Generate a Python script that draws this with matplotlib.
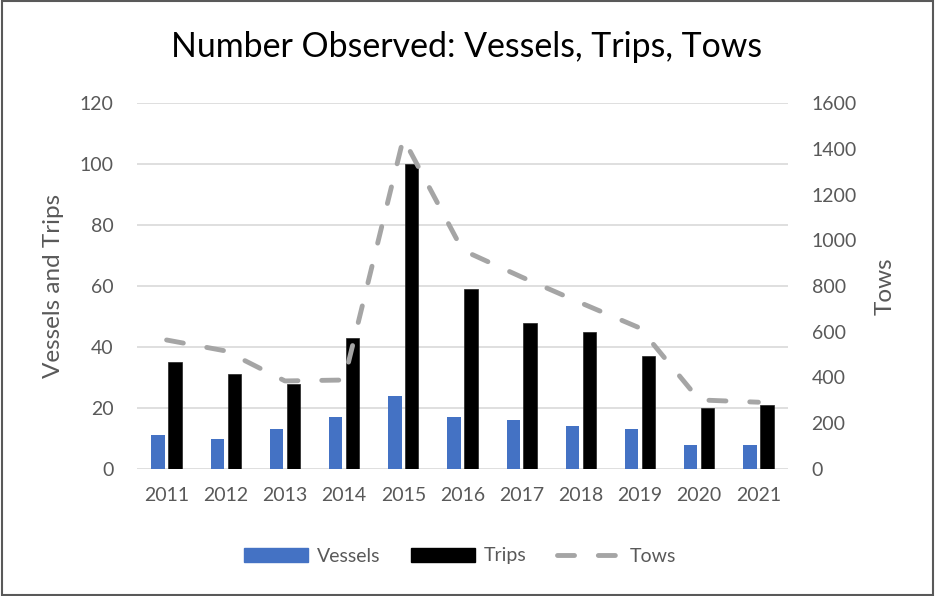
import numpy as np
import matplotlib.pyplot as plt
from matplotlib.patches import Patch, Rectangle
from matplotlib.lines import Line2D

years = ["2011", "2012", "2013", "2014", "2015", "2016", "2017", "2018", "2019", "2020", "2021"]
vessels = [11, 10, 13, 17, 24, 17, 16, 14, 13, 8, 8]
trips = [35, 31, 28, 43, 100, 59, 48, 45, 37, 20, 21]
tows = [564, 516, 385, 389, 1445, 957, 839, 726, 616, 302, 292]

plt.rcParams['font.family'] = ['Lato', 'DejaVu Sans']
grey_txt = "#595959"
tow_col = "#A5A5A5"
tow_lw = 3.5
dash = (0, (3.5, 4.9))

fig = plt.figure(figsize=(9.35, 5.96), dpi=100)
ax = fig.add_axes([137 / 935, 1 - 469 / 596, 651 / 935, 366 / 596])
ax2 = ax.twinx()

x = np.arange(len(years))
w = 0.225
ax.bar(x - 0.143, vessels, w, color="#4472C4", zorder=3)
ax.bar(x + 0.143, trips, w, color="black", edgecolor="#222222", linewidth=0.5, zorder=3)

ax2.plot(x, tows, color=tow_col, lw=tow_lw, linestyle=dash,
         dash_capstyle="round", dash_joinstyle="round")

ax.set_xlim(-0.5, len(years) - 0.5)
ax.set_ylim(0, 120)
ax2.set_ylim(0, 1600)
ax.set_yticks(range(0, 121, 20))
ax2.set_yticks(range(0, 1601, 200))
ax.set_xticks(x)
ax.set_xticklabels(years)
ax.grid(axis="y", color="#D9D9D9", lw=1.2, zorder=0)
ax.set_axisbelow(True)

for a in (ax, ax2):
    for s in a.spines.values():
        s.set_visible(False)
    a.tick_params(length=0, labelsize=14, labelcolor=grey_txt)
ax.tick_params(axis="y", pad=17)
ax.tick_params(axis="x", pad=13)
ax2.tick_params(axis="y", pad=17)

ax.set_ylabel("Vessels and Trips", fontsize=17.5, color=grey_txt, labelpad=11)
ax2.set_ylabel("Tows", fontsize=17.5, color=grey_txt, labelpad=13)

fig.text(467 / 935, 1 - 47 / 596, "Number Observed: Vessels, Trips, Tows",
         ha="center", va="center", fontsize=24.4, color="black")

handles = [Patch(color="#4472C4", label="Vessels"),
           Patch(color="black", label="Trips"),
           Line2D([0], [0], color=tow_col, lw=tow_lw, linestyle=dash,
                  dash_capstyle="round", label="Tows")]
fig.legend(handles=handles, loc="center", bbox_to_anchor=(460 / 935, 1 - 556 / 596),
           ncol=3, frameon=False, fontsize=14, handlelength=3.3, handleheight=0.72,
           handletextpad=0.45, columnspacing=1.55, labelcolor=grey_txt)

fig.patches.append(Rectangle((0.002, 0.002), 0.996, 0.996, transform=fig.transFigure,
                             fill=False, edgecolor="#595959", lw=1.5))

fig.savefig("out.png", dpi=100)
